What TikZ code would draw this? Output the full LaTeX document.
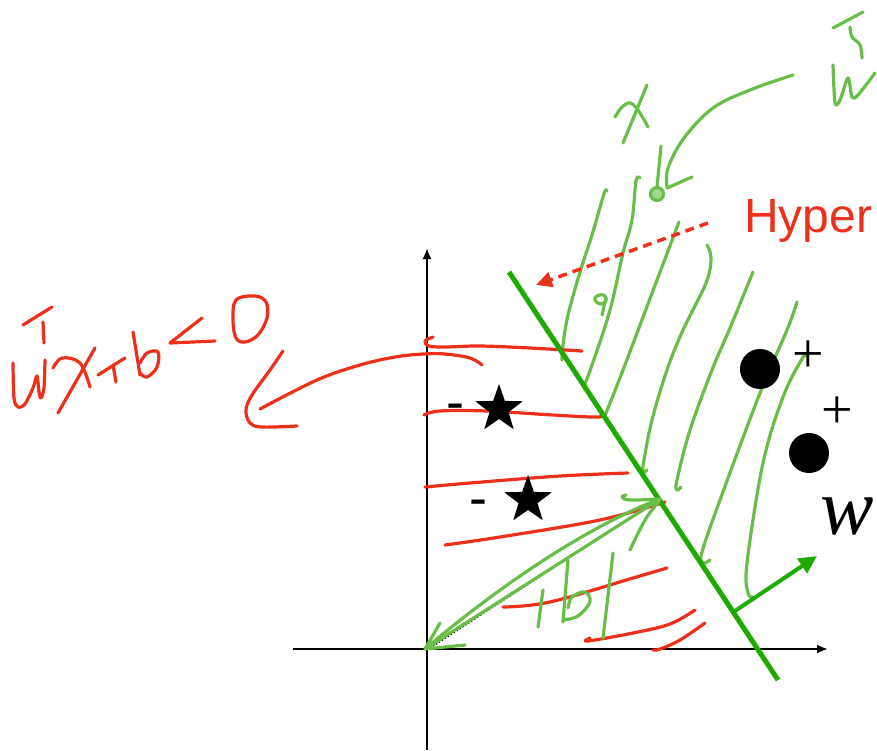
\documentclass[tikz,border=0pt]{standalone}
\usepackage{fontspec}
\setmainfont{Liberation Serif}
\setsansfont{Liberation Sans}
\usetikzlibrary{arrows.meta,shapes.geometric}
\definecolor{planegreen}{RGB}{30,170,0}
\definecolor{inkgreen}{RGB}{104,190,72}
\definecolor{inkred}{RGB}{236,48,28}
\tikzset{
  pen/.style={line width=3.2pt, line cap=round, line join=round},
  greenpen/.style={pen, draw=inkgreen},
  redpen/.style={pen, draw=inkred},
  starmark/.style={star, star points=5, star point ratio=2.5, fill=black, minimum size=50pt, inner sep=0pt},
  dotmark/.style={circle, fill=black, minimum size=40pt, inner sep=0pt},
  pluslabel/.style={font=\fontsize{56}{56}\selectfont, inner sep=0pt},
  minuslabel/.style={font=\sffamily\fontsize{54}{54}\selectfont, inner sep=0pt},
}
\begin{document}
\begin{tikzpicture}[x=1pt, y=-1pt]
        \useasboundingbox (0,0) rectangle (877,750);

        % Assi
        \coordinate (O) at (425,649);
        \coordinate (ybot) at (427,750);
        \coordinate (ytop) at (427,248);
        \coordinate (xleft) at (293,649);
        \coordinate (xright) at (828,649);
        \draw[line width=2pt, -{Latex[length=11pt,width=9pt]}] (ybot) -- (ytop);
        \draw[line width=2pt, -{Latex[length=11pt,width=9pt]}] (xleft) -- (xright);

        % Tratteggio verde (lato positivo)
        \draw[greenpen] plot[smooth, tension=0.6] coordinates {(607,191) (604,194) (592,235) (580,272) (568,315) (563,345) (562,360)};
        \draw[greenpen] plot[smooth, tension=0.6] coordinates {(640,178) (636,181) (632,220) (623,253) (610,310) (592,365) (584,386)};
        \draw[greenpen] plot[smooth, tension=0.6] coordinates {(679,222) (657,280) (623,370) (604,418)};
        \draw[greenpen] plot[smooth, tension=0.6] coordinates {(707,245) (711,258) (706,283) (683,330) (667,370) (652,420) (644,460) (643,472) (647,470)};
        \draw[greenpen] plot[smooth, tension=0.6] coordinates {(753,272) (730,328) (712,370) (690,430) (677,480) (677,490) (681,487)};
        \draw[greenpen] plot[smooth, tension=0.6] coordinates {(797,302) (787,330) (760,393) (720,500) (702,552) (703,563) (710,560)};
        \draw[greenpen] plot[smooth, tension=0.6] coordinates {(807,356) (802,359) (783,397) (763,463) (747,563) (748,593) (753,597)};
        % piccolo segno
        \draw[greenpen] plot[smooth cycle, tension=0.7] coordinates {(597,296) (604,295) (606,301) (600,304) (595,300)};
        \draw[greenpen] (606,298) -- (602,315);

        % Tratteggio rosso (lato negativo)
        \draw[redpen] plot[smooth, tension=0.6] coordinates {(433,337) (425,341) (429,346) (445,347) (480,346) (530,348) (582,351)};
        \draw[redpen] plot[smooth, tension=0.6] coordinates {(424,415) (440,411) (487,411) (553,415) (598,417) (603,413)};
        \draw[redpen] plot[smooth, tension=0.6] coordinates {(425,487) (470,483) (560,476) (628,473)};
        \draw[redpen] plot[smooth, tension=0.6] coordinates {(445,545) (500,537) (600,520) (665,502)};
        \draw[redpen] plot[smooth, tension=0.6] coordinates {(503,607) (550,602) (633,578) (667,568)};
        \draw[redpen] plot[smooth, tension=0.6] coordinates {(590,638) (588,641) (633,633) (670,624) (695,610)};
        \draw[redpen] plot[smooth, tension=0.6] coordinates {(653,650) (660,649) (680,640) (705,623)};

        % Freccia rossa verso la scritta
        \draw[redpen] plot[smooth, tension=0.6] coordinates {(482,365) (470,358) (445,354) (423,354) (395,357) (360,365) (317,380) (260,409)};
        \draw[redpen] plot[smooth, tension=0.6] coordinates {(283,351) (270,370) (252,395) (246,410) (250,423) (262,427) (297,426)};

        % w^T x + b < 0
        \draw[redpen] (23,325) -- (52,307);
        \draw[redpen] (43,322) -- (44,343);
        \draw[redpen] plot[smooth, tension=0.5] coordinates {(13,363) (14,398) (18,407) (25,404) (33,388) (37,376) (39,392) (41,398) (44,388) (45,360)};
        \draw[redpen] plot[smooth, tension=0.6] coordinates {(53,368) (62,358) (80,363) (90,387)};
        \draw[redpen] (95,348) -- (58,413);
        \draw[redpen] (98,375) -- (125,358);
        \draw[redpen] (113,365) -- (116,382);
        \draw[redpen] (133,332) -- (140,375);
        \draw[redpen] plot[smooth, tension=0.6] coordinates {(140,373) (147,377) (157,367) (158,352) (147,353) (140,363)};
        \draw[redpen] (202,318) -- (170,343) -- (215,341);
        \draw[redpen] plot[smooth cycle, tension=0.6] coordinates {(236,300) (233,320) (236,338) (245,342) (258,335) (267,318) (266,302) (255,296)};

        % Iperpiano
        \coordinate (Htop) at (509,272);
        \coordinate (Hbot) at (778,680);
        \draw[line width=5pt, planegreen] (Htop) -- (Hbot);

        % Vettore w
        \coordinate (wfoot) at (735,611);
        \coordinate (wtip) at (817,556);
        \draw[line width=4pt, planegreen, -{Triangle[length=18pt,width=17pt]}] (wfoot) -- (wtip);
        \node[font=\fontsize{80}{80}\selectfont\itshape, inner sep=0pt] (wlab) at (847,517) {w};

        % Punti positivi
        \node[dotmark] (p1) at (760,369) {};
        \node[dotmark] (p2) at (809,453) {};
        \node[pluslabel] (plus1) at (808,357) {+};
        \node[pluslabel] (plus2) at (837,413) {+};

        % Punti negativi
        \node[starmark] (s1) at (499,409) {};
        \node[starmark] (s2) at (528,500) {};
        \node[minuslabel] (minus1) at (455,412) {-};
        \node[minuslabel] (minus2) at (478,508) {-};

        % Hyper e freccia tratteggiata
        \node[text=inkred, font=\sffamily\fontsize{48}{48}\selectfont, anchor=base west, inner sep=0pt] (hyper) at (744,232) {Hyper};
        \coordinate (hyptail) at (708,223);
        \coordinate (hyphead) at (536,285);
        \draw[line width=3.5pt, inkred, dash pattern=on 9pt off 6pt, -{Triangle[length=16pt,width=15pt]}] (hyptail) -- (hyphead);

        % Distanza |b| dall'origine
        \coordinate (B) at (660,499);
        \draw[line width=1.5pt, dotted] (430,648) -- (608,532);
        \draw[greenpen] (B) -- (O);
        \draw[greenpen] (B) .. controls (590,525) and (500,585) .. (O);
        \draw[greenpen] (440,623) -- (O) -- (465,645);
        \draw[greenpen] plot[smooth, tension=0.6] coordinates {(626,495) (622,497) (630,500) (660,499)};
        \draw[greenpen] plot[smooth, tension=0.6] coordinates {(630,550) (645,520) (660,500)};
        \draw[greenpen] (543,590) -- (538,627);
        \draw[greenpen] (568,560) -- (563,622);
        \draw[greenpen] plot[smooth, tension=0.6] coordinates {(563,620) (578,616) (590,602) (585,592) (572,597) (568,608)};
        \draw[greenpen] (613,553) -- (603,638);

        % x e w^T in alto
        \draw[greenpen] plot[smooth, tension=0.6] coordinates {(615,117) (622,107) (630,103) (638,110) (648,127)};
        \draw[greenpen] (647,85) -- (623,143);
        \draw[greenpen] (661,146) -- (657,187);
        \draw[greenpen, fill=inkgreen!60] (657,194) circle (6.5pt);
        \draw[greenpen] plot[smooth, tension=0.6] coordinates {(793,75) (750,90) (713,108) (684,138) (668,168) (667,187)};
        \draw[greenpen] (692,177) -- (667,188);
        \draw[greenpen] (833,28) -- (863,12);
        \draw[greenpen] plot[smooth, tension=0.6] coordinates {(850,27) (852,37) (860,45) (862,58)};
        \draw[greenpen] plot[smooth, tension=0.5] coordinates {(833,65) (835,103) (840,100) (848,78) (852,97) (858,95) (875,73)};
    \end{tikzpicture}
\end{document}
